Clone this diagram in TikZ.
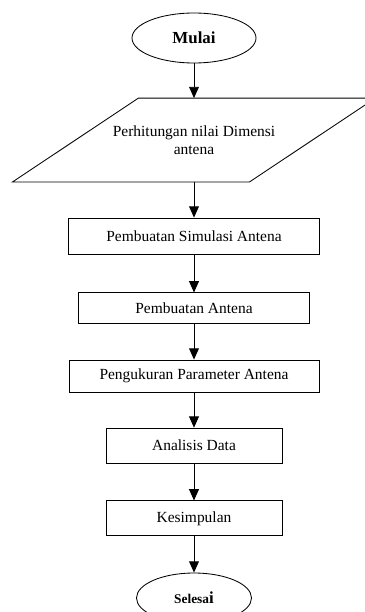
\documentclass[tikz,border=0pt]{standalone}
\usepackage{fontspec}
\setmainfont{Liberation Serif}
\usetikzlibrary{shapes.geometric, positioning, arrows.meta}

\begin{document}
\begin{tikzpicture}[>={Triangle[width=7pt,length=8pt]}, on grid, line width=0.6pt, font=\fontsize{11}{13}\selectfont]
  \tikzset{
    terminal/.style={ellipse, draw, inner sep=0pt},
    inbox/.style={rectangle, align=center, inner sep=0pt},
    process/.style={rectangle, draw, inner sep=0pt}
  }
  \useasboundingbox (0,0) rectangle (9.125,-15.3);
		\node[terminal, minimum width=3.1cm, minimum height=1.25cm, font=\bfseries\fontsize{12}{14}\selectfont] (mulai) at (4.85,-0.95) {Mulai};
		\node[inbox, minimum width=9.05cm, minimum height=2.075cm] (hitung) [below=2.55cm of mulai] {Perhitungan nilai Dimensi\\antena};
		\node[process, minimum width=6.275cm, minimum height=0.9cm] (simulasi) [below=2.4cm of hitung] {Pembuatan Simulasi Antena};
		\node[process, minimum width=5.775cm, minimum height=0.775cm] (buat) [below=1.81cm of simulasi] {Pembuatan Antena};
		\node[process, minimum width=6.25cm, minimum height=0.8cm] (ukur) [below=1.69cm of buat] {Pengukuran Parameter Antena};
		\node[process, minimum width=4.4cm, minimum height=0.875cm] (analisis) [below=1.74cm of ukur] {Analisis Data};
		\node[process, minimum width=4.4cm, minimum height=0.875cm] (simpul) [below=1.82cm of analisis] {Kesimpulan};
		\node[terminal, minimum width=2.875cm, minimum height=1.25cm, font=\bfseries\fontsize{9.5}{11}\selectfont] (selesai) [below=1.99cm of simpul] {Selesa{\fontsize{12}{14}\selectfont i}};
    % input parallelogram round the text
    \draw (hitung.south west) -- ++(5.925,0) -- (hitung.north east) -- ++(-5.925,0) -- cycle;
    \path[->]
      (mulai)    edge (hitung)
      (hitung)   edge (simulasi)
      (simulasi) edge (buat)
      (buat)     edge (ukur)
      (ukur)     edge (analisis)
      (analisis) edge (simpul)
      (simpul)   edge (selesai);
\end{tikzpicture}
\end{document}
